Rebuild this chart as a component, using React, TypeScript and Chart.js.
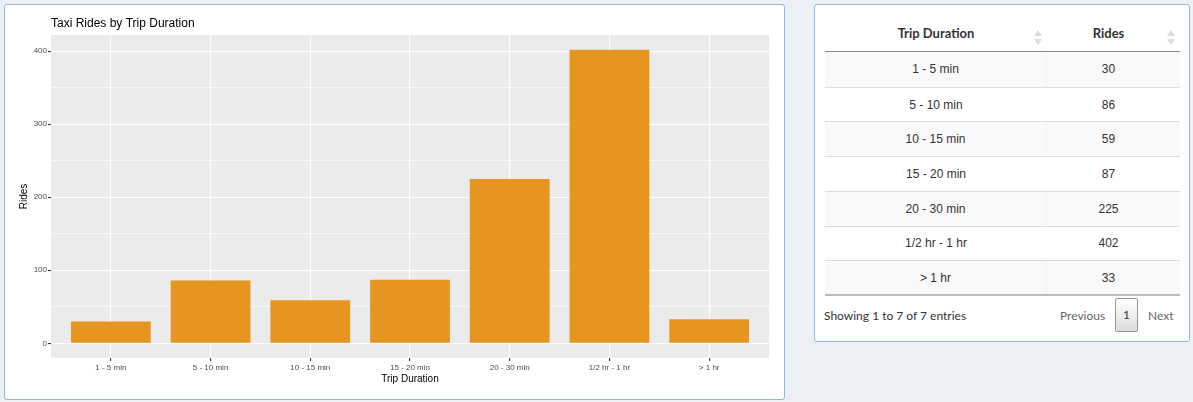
import React, { useEffect, useRef } from 'react';
import { Chart, registerables } from 'chart.js';

Chart.register(...registerables);

const categories = ['1 - 5 min', '5 - 10 min', '10 - 15 min', '15 - 20 min', '20 - 30 min', '1/2 hr - 1 hr', '> 1 hr'];
const rides = [30, 86, 59, 87, 225, 402, 33];
const yMajorTicks = [0, 100, 200, 300, 400];
const yMinorTicks = [50, 150, 250, 350];
const chartTitle = 'Taxi Rides by Trip Duration';
const xTitle = 'Trip Duration';
const yTitle = 'Rides';
const tableHeaders = ['Trip Duration', 'Rides'];

const FONT = "'Liberation Sans', Arial, sans-serif";
const TFONT = "Lato, 'Open Sans', sans-serif";

const panelBg = {
  id: 'panelBg',
  beforeDraw(chart: any) {
    const { ctx, chartArea } = chart;
    ctx.save();
    ctx.fillStyle = '#EBEBEB';
    ctx.fillRect(chartArea.left, chartArea.top, chartArea.right - chartArea.left, chartArea.bottom - chartArea.top);
    ctx.restore();
  },
};

function BarChart() {
  const ref = useRef<HTMLCanvasElement | null>(null);
  useEffect(() => {
    if (!ref.current) return;
    const maxV = Math.max(...rides);
    const pad = maxV * 0.05;
    const chart = new Chart(ref.current, {
      type: 'bar',
      data: {
        datasets: [
          {
            label: yTitle,
            data: rides.map((v, i) => ({ x: i, y: v })),
            backgroundColor: '#E69620',
            borderWidth: 0,
            barPercentage: 0.8,
            categoryPercentage: 1,
          },
        ],
      },
      options: {
        animation: false,
        responsive: true,
        maintainAspectRatio: false,
        layout: { padding: { left: 0, right: 14, top: 0, bottom: 0 } },
        plugins: {
          legend: { display: false },
          tooltip: { enabled: false },
          title: {
            display: true,
            text: chartTitle,
            align: 'start',
            fullSize: false,
            color: '#000000',
            font: { family: FONT, size: 12, weight: 'normal' },
            padding: { top: 11.8, bottom: 3.8 },
          },
        },
        scales: {
          x: {
            type: 'linear',
            offset: false,
            min: -0.6,
            max: categories.length - 1 + 0.6,
            afterBuildTicks: (scale: any) => {
              scale.ticks = categories.map((_, i) => ({ value: i }));
            },
            afterFit: (scale: any) => {
              scale.height = 40;
            },
            ticks: {
              autoSkip: false,
              maxRotation: 0,
              padding: 2,
              color: '#4D4D4D',
              font: { family: FONT, size: 8 },
              callback: (v: any) => categories[Math.round(Number(v))] ?? '',
            },
            grid: {
              offset: false,
              color: '#FFFFFF',
              lineWidth: 1.1,
              tickColor: '#333333',
              tickLength: 3,
              drawTicks: true,
            },
            border: { display: false },
            title: {
              display: true,
              text: xTitle,
              color: '#000000',
              font: { family: FONT, size: 10 },
              padding: { top: 13, bottom: 13 },
            },
          },
          y: {
            type: 'linear',
            min: -pad,
            max: maxV + pad,
            afterBuildTicks: (scale: any) => {
              scale.ticks = [...yMajorTicks, ...yMinorTicks].sort((a, b) => a - b).map((v) => ({ value: v }));
            },
            afterFit: (scale: any) => {
              scale.width = 46;
            },
            ticks: {
              padding: 1,
              color: '#4D4D4D',
              font: { family: FONT, size: 8 },
              callback: (v: any) => (yMajorTicks.includes(Number(v)) ? String(v) : ''),
            },
            grid: {
              color: '#FFFFFF',
              lineWidth: (c: any) => (yMajorTicks.includes(c.tick?.value) ? 1.1 : 0.6),
              tickColor: (c: any) => (yMajorTicks.includes(c.tick?.value) ? '#333333' : 'rgba(0,0,0,0)'),
              tickLength: 3,
            },
            border: { display: false },
            title: {
              display: true,
              text: yTitle,
              color: '#000000',
              font: { family: FONT, size: 10 },
              padding: { top: 13, bottom: 13 },
            },
          },
        },
      },
      plugins: [panelBg],
    } as any);
    return () => chart.destroy();
  }, []);
  return (
    <div style={{ position: 'absolute', left: 5, top: 5, width: 778, height: 393 }}>
      <canvas ref={ref} />
    </div>
  );
}

function SortIcon({ left }: { left: number }) {
  return (
    <div style={{ position: 'absolute', left, top: 25, width: 10, height: 16 }}>
      <div style={{ position: 'absolute', left: 0, top: 0, width: 0, height: 0, borderLeft: '4px solid transparent', borderRight: '4px solid transparent', borderBottom: '6px solid #DDDDDD' }} />
      <div style={{ position: 'absolute', left: 0, top: 9, width: 0, height: 0, borderLeft: '4px solid transparent', borderRight: '4px solid transparent', borderTop: '6px solid #DDDDDD' }} />
    </div>
  );
}

function DataTable() {
  const rowTop = 52;
  const rowH = 34.7;
  const tableLeft = 10;
  const col1W = 222;
  const col2W = 133;
  return (
    <div style={{ position: 'absolute', left: 814, top: 4, width: 374, height: 336, border: '1px solid #8DB9DD', borderRadius: 3, background: '#FFFFFF', fontFamily: TFONT, color: '#333333' }}>
      <div style={{ position: 'absolute', left: tableLeft, top: 10, width: col1W, height: 37, lineHeight: '37px', textAlign: 'center', fontWeight: 'bold', fontSize: 13 }}>{tableHeaders[0]}</div>
      <div style={{ position: 'absolute', left: tableLeft + col1W, top: 10, width: col2W - 10, height: 37, lineHeight: '37px', textAlign: 'center', fontWeight: 'bold', fontSize: 13 }}>{tableHeaders[1]}</div>
      <SortIcon left={219} />
      <SortIcon left={352} />
      <div style={{ position: 'absolute', left: tableLeft, top: 46, width: col1W + col2W, height: 1, background: '#888888' }} />
      {categories.map((c, i) => (
        <div key={c} style={{ position: 'absolute', left: tableLeft, top: rowTop - 5 + i * rowH, width: col1W + col2W, height: rowH, background: i % 2 === 0 ? '#F9F9F9' : '#FFFFFF', borderTop: i === 0 ? 'none' : '1px solid #DDDDDD', boxSizing: 'border-box', fontSize: 12, fontFamily: FONT }}>
          <div style={{ position: 'absolute', left: 0, top: 0, width: col1W, height: '100%', display: 'flex', alignItems: 'center', justifyContent: 'center', borderRight: i % 2 === 0 ? '1px solid #F0F0F0' : 'none', boxSizing: 'border-box' }}>{c}</div>
          <div style={{ position: 'absolute', left: col1W, top: 0, width: col2W - 10, height: '100%', display: 'flex', alignItems: 'center', justifyContent: 'center' }}>{rides[i]}</div>
        </div>
      ))}
      <div style={{ position: 'absolute', left: tableLeft, top: rowTop - 5 + categories.length * rowH - 1, width: col1W + col2W, height: 2, background: '#BBBBBB' }} />
      <div style={{ position: 'absolute', left: 9, top: 302, fontSize: 12, lineHeight: '18px' }}>Showing 1 to 7 of 7 entries</div>
      <div style={{ position: 'absolute', left: 245, top: 302, fontSize: 12, lineHeight: '18px', color: '#666666' }}>Previous</div>
      <div style={{ position: 'absolute', left: 300, top: 293, width: 21, height: 32, border: '1px solid #979797', borderRadius: 2, background: 'linear-gradient(to bottom, #FFFFFF 0%, #DCDCDC 100%)', fontSize: 12, lineHeight: '32px', textAlign: 'center', color: '#333333' }}>1</div>
      <div style={{ position: 'absolute', left: 333, top: 302, fontSize: 12, lineHeight: '18px', color: '#666666' }}>Next</div>
    </div>
  );
}

export default function App() {
  useEffect(() => {
    document.body.style.margin = '0';
  }, []);
  return (
    <div style={{ position: 'relative', width: 1193, height: 402, background: '#ECF0F5', overflow: 'hidden' }}>
      <div style={{ position: 'absolute', left: 4, top: 4, width: 779, height: 394, border: '1px solid #8DB9DD', borderRadius: 3, background: '#FFFFFF' }} />
      <BarChart />
      <DataTable />
    </div>
  );
}
